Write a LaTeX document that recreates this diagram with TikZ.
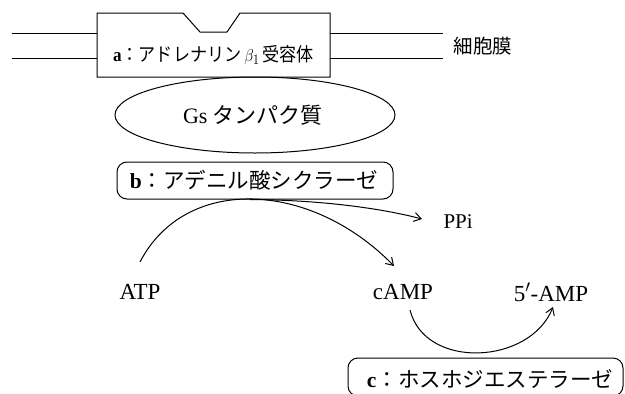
\documentclass[tikz,border=0pt]{standalone}
\usepackage{fontspec}
\setmainfont{Liberation Serif}
\newfontfamily\jp{Noto Sans CJK JP}
\usetikzlibrary{arrows.meta,shapes.geometric}
\begin{document}
\begin{tikzpicture}[x=1pt,y=-1pt,
  line width=1pt,
  lbl/.style={font=\fontsize{23}{26}\selectfont, inner sep=0pt},
  jlbl/.style={font=\fontsize{21.5}{24}\selectfont, inner sep=0pt},
  enz/.style={draw, rounded corners=10pt, inner sep=0pt},
  arr/.style={-{Straight Barb[length=7pt,width=9pt]}, line width=1pt}]
\useasboundingbox (0,0) rectangle (625,394);
% membrane
\coordinate (ml1) at (12,33); \coordinate (ml2) at (12,58);
\coordinate (mr1) at (443,33); \coordinate (mr2) at (443,58);
\coordinate (bl1) at (97,33); \coordinate (bl2) at (97,58);
\coordinate (br1) at (330,33); \coordinate (br2) at (330,58);
\draw (ml1) -- (bl1); \draw (ml2) -- (bl2);
\draw (br1) -- (mr1); \draw (br2) -- (mr2);
\node[jlbl, font=\fontsize{19.5}{22}\selectfont, anchor=west] (memb) at (453,46) {\jp 細胞膜};
% receptor
\draw (97,13) -- (183,13) -- (200,32) -- (227,32) -- (240,13) -- (330,13) -- (330,77) -- (97,77) -- cycle;
\node[jlbl, font=\fontsize{19}{22}\selectfont, xscale=0.9] (rec) at (213.5,55) {\textbf{a}\jp ：アドレナリン\,\rm$\beta_1$\,\jp 受容体};
% Gs
\node[draw, ellipse, minimum width=280pt, minimum height=76pt, inner sep=0pt] (gs) at (255,115) {};
\node[jlbl, font=\fontsize{22}{24}\selectfont] (gst) at (253,115) {Gs\ \jp タンパク質};
% b
\node[enz, minimum width=276pt, minimum height=37pt] (b) at (255,180.5) {};
\node[jlbl] (bt) at (254,180.5) {\textbf{b}\jp ：アデニル酸シクラーゼ};
% c
\node[enz, minimum width=275pt, minimum height=38pt] (c) at (485.5,377) {};
\node[jlbl] (ct) at (490,379) {\textbf{c}\jp ：ホスホジエステラーゼ};
% metabolites
\node[lbl] (atp) at (140,292) {ATP};
\node[lbl] (camp) at (403,292) {cAMP};
\node[lbl] (amp) at (551,292) {5$'$-AMP};
\node[lbl, font=\fontsize{21}{24}\selectfont, anchor=west] (ppi) at (443,222) {PPi};
% reactions
\coordinate (s1) at (140,262);
\coordinate (e1) at (394,266);
\coordinate (top) at (250,199.5);
\coordinate (e2) at (422,219);
\draw[arr] (s1) .. controls (185,175) and (310,180) .. (e1);
\draw[arr] (top) .. controls (320,200) and (380,208) .. (e2);
\coordinate (s3) at (410,310);
\coordinate (e3) at (553,307);
\draw[arr] (s3) .. controls (425,370) and (530,365) .. (e3);
\end{tikzpicture}
\end{document}
